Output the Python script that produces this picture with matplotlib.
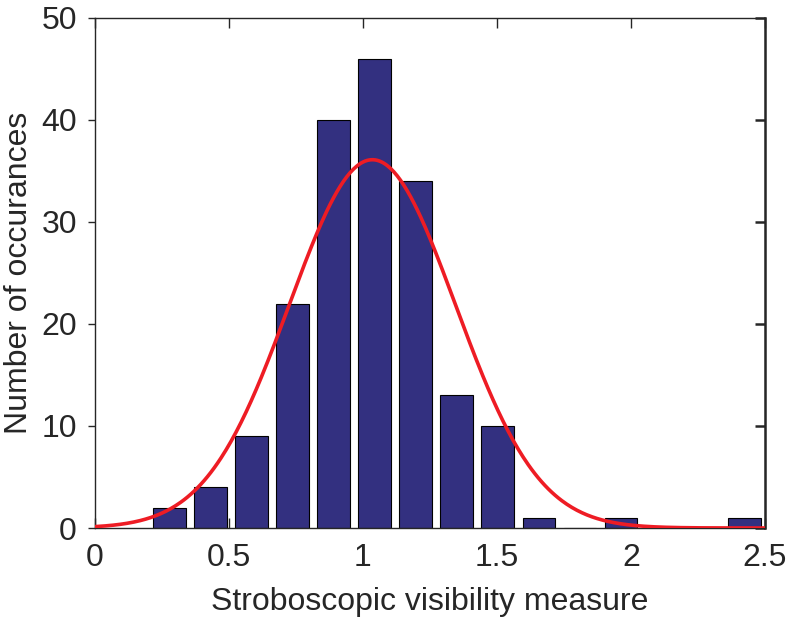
import numpy as np
import matplotlib
matplotlib.use("Agg")
import matplotlib.pyplot as plt

plt.rcParams['font.family'] = ['Liberation Sans', 'DejaVu Sans']

# histogram bins (centers) and counts
bin_centers = [0.277, 0.430, 0.583, 0.737, 0.890, 1.043, 1.197, 1.350,
               1.503, 1.657, 1.810, 1.963, 2.117, 2.270, 2.423]
counts = [2, 4, 9, 22, 40, 46, 34, 13, 10, 1, 0, 1, 0, 0, 1]
bin_width = 0.1533

# fitted normal (histfit style)
fit_mu = 1.035
fit_sigma = 0.31
fit_n = sum(counts)

x_ticks = [0, 0.5, 1, 1.5, 2, 2.5]
x_ticklabels = ['0', '0.5', '1', '1.5', '2', '2.5']
y_ticks = [0, 10, 20, 30, 40, 50]

text_col = '#262626'
fs = 23

fig = plt.figure(figsize=(7.87, 6.19), dpi=100)
ax = fig.add_axes([0.1207, 0.147, 0.8513, 0.824])

ax.bar(bin_centers, counts, width=bin_width * 0.8, color='#333080',
       edgecolor='black', linewidth=0.8, zorder=2)

xs = np.linspace(0, 2.5, 400)
ys = fit_n * bin_width / (fit_sigma * np.sqrt(2 * np.pi)) * np.exp(-(xs - fit_mu) ** 2 / (2 * fit_sigma ** 2))
ax.plot(xs, ys, color='#ee1c24', linewidth=2.6, zorder=3)

ax.set_xlim(0, 2.5)
ax.set_ylim(0, 50)
ax.set_xticks(x_ticks)
ax.set_xticklabels(x_ticklabels)
ax.set_yticks(y_ticks)

for s in ax.spines.values():
    s.set_color(text_col)
    s.set_linewidth(1.0)
ax.spines['right'].set_linewidth(1.8)

ax.tick_params(axis='both', labelsize=fs, colors=text_col, width=1.0)
ax.tick_params(axis='x', direction='in', top=True, length=7, pad=11)
ax.tick_params(axis='y', direction='out', right=False, length=5, pad=8)
# right side ticks point inward
ax2 = ax.secondary_yaxis('right')
ax2.set_yticks(y_ticks)
ax2.tick_params(direction='in', length=7, width=1.8, colors=text_col, labelright=False)

ax.set_xlabel('Stroboscopic visibility measure', fontsize=fs, color=text_col, labelpad=10)
ax.set_ylabel('Number of occurances', fontsize=fs, color=text_col, labelpad=5)

fig.savefig('out.png', dpi=100)
